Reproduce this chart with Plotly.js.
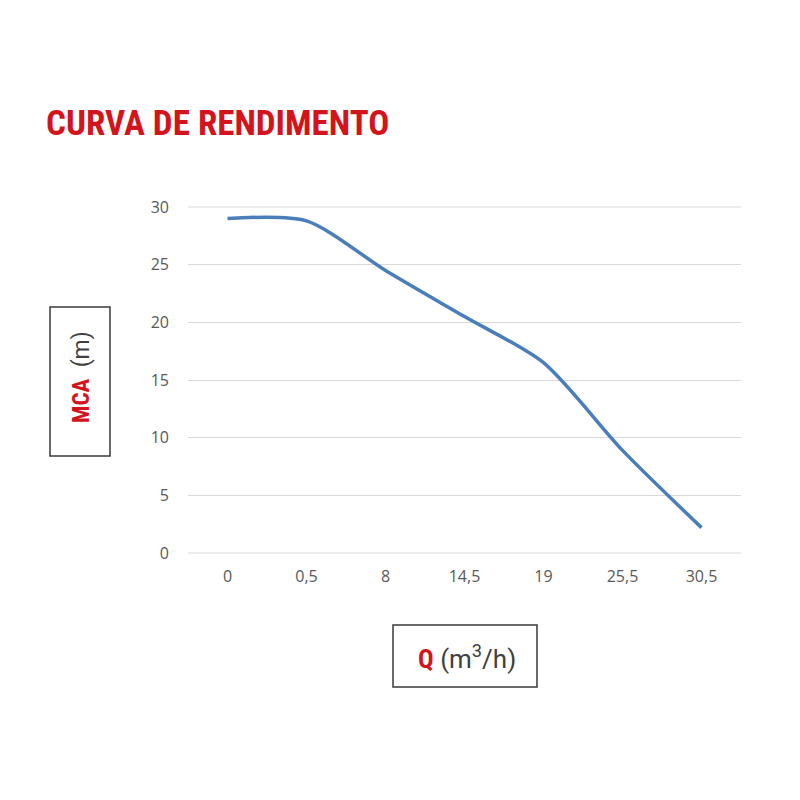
<!DOCTYPE html>
<html>
<head>
<meta charset="utf-8">
<script src="https://cdn.plot.ly/plotly-3.0.1.min.js"></script>
<style>html,body{margin:0;padding:0;background:#fff;}#chart{width:800px;height:800px;}</style>
</head>
<body>
<div id="chart"></div>
<script>
const categories = ['0', '0,5', '8', '14,5', '19', '25,5', '30,5'];
const mca = [29.0, 28.8, 24.5, 20.5, 16.5, 8.9, 2.2];
const yTicks = [0, 5, 10, 15, 20, 25, 30];

const L = 188, R = 741, T = 207, B = 553;
const px = x => (x - L) / (R - L);
const py = y => (B - y) / (B - T);
const red = '#d3141c';
const narrow = 'Liberation Sans Narrow, Roboto Condensed, Roboto';

const trace = {
  x: categories,
  y: mca,
  type: 'scatter',
  mode: 'lines',
  line: {color: '#4a7ebb', width: 3.5, shape: 'spline', smoothing: 0.75},
  hoverinfo: 'skip'
};

const layout = {
  width: 800, height: 800,
  margin: {l: L, r: 800 - R, t: T, b: 800 - B, autoexpand: false},
  paper_bgcolor: '#fff', plot_bgcolor: '#fff',
  showlegend: false,
  title: {
    text: 'CURVA DE RENDIMENTO',
    xref: 'container', yref: 'container',
    x: 46 / 800, xanchor: 'left', y: 1 - 123 / 800, yanchor: 'middle',
    font: {family: narrow + ', sans-serif', size: 35, weight: 700, color: red}
  },
  xaxis: {
    type: 'category', range: [-0.5, 6.5], fixedrange: true,
    showgrid: false, zeroline: false, showline: false, ticks: '',
    ticklabelstandoff: 12,
    tickfont: {family: 'Open Sans, sans-serif', size: 16, color: '#595959'}
  },
  yaxis: {
    range: [0, 30], tickvals: yTicks, fixedrange: true,
    showgrid: true, gridcolor: '#d9d9d9', gridwidth: 1,
    zeroline: false, showline: false, ticks: '',
    ticklabelstandoff: 18,
    tickfont: {family: 'Open Sans, sans-serif', size: 16, color: '#595959'}
  },
  shapes: [
    {type: 'line', xref: 'paper', yref: 'paper', x0: 0, x1: 1, y0: 0, y1: 0, line: {color: '#d9d9d9', width: 1}, layer: 'below'},
    {type: 'line', xref: 'paper', yref: 'paper', x0: 0, x1: 1, y0: 1, y1: 1, line: {color: '#d9d9d9', width: 1}, layer: 'below'},
    {type: 'rect', xref: 'paper', yref: 'paper', x0: px(50), x1: px(110), y0: py(456), y1: py(307), line: {color: '#3a3a3a', width: 1.5}},
    {type: 'rect', xref: 'paper', yref: 'paper', x0: px(393), x1: px(537), y0: py(687), y1: py(625), line: {color: '#3a3a3a', width: 1.5}}
  ],
  annotations: [
    {
      xref: 'paper', yref: 'paper', x: px(81), y: py(377), xanchor: 'center', yanchor: 'middle',
      textangle: -90, showarrow: false,
      text: '<span style="font-family:' + narrow + ';font-weight:bold;color:' + red + '">MCA</span>&nbsp; (m)',
      font: {family: 'Roboto, Liberation Sans, sans-serif', size: 23, color: '#404040'}
    },
    {
      xref: 'paper', yref: 'paper', x: px(467), y: py(657), xanchor: 'center', yanchor: 'middle',
      showarrow: false,
      text: '<span style="font-family:' + narrow + ';font-weight:bold;color:' + red + '">Q</span> (m<sup>3</sup>/h)',
      font: {family: 'Roboto, Liberation Sans, sans-serif', size: 26, color: '#404040'}
    }
  ]
};

Plotly.newPlot('chart', [trace], layout, {staticPlot: true, displayModeBar: false});
</script>
</body>
</html>
